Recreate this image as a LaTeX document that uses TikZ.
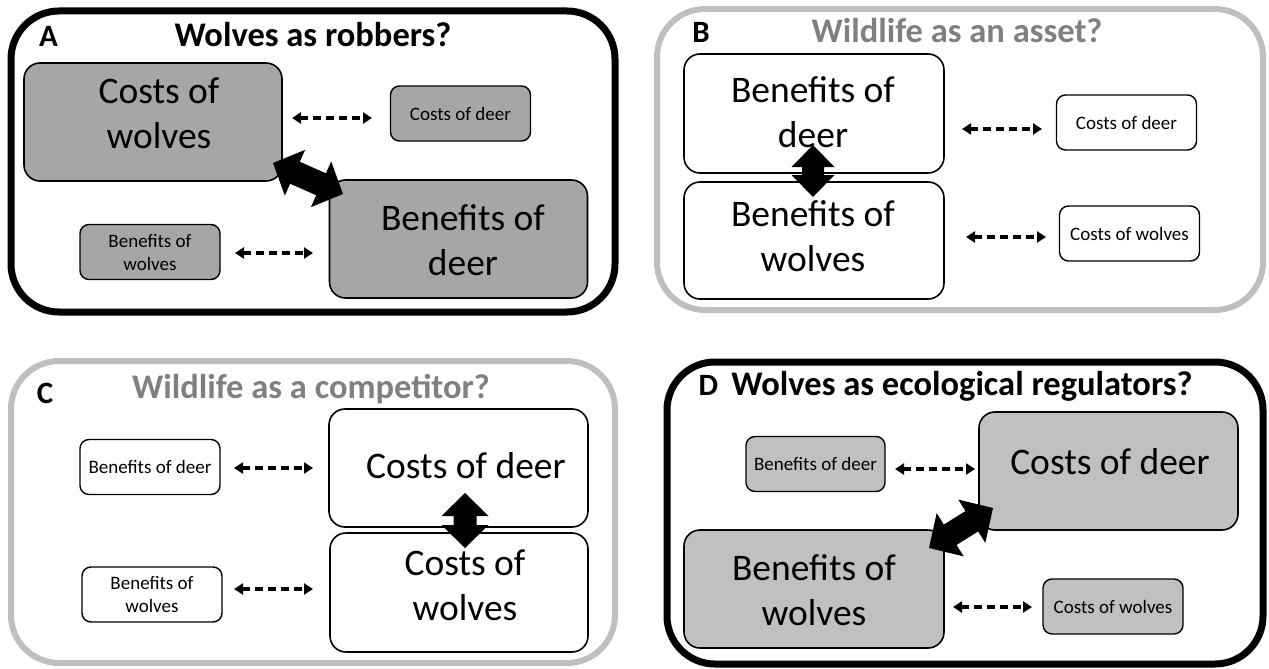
\documentclass[tikz,border=0pt]{standalone}
\usepackage{fontspec}
\setmainfont{Carlito}
\usetikzlibrary{arrows.meta,calc}
\definecolor{fillA}{RGB}{166,166,166}
\definecolor{fillD}{RGB}{192,192,192}
\definecolor{framegray}{RGB}{191,191,191}
\definecolor{titlegray}{RGB}{128,128,128}
% #1 start, #2 end, #3 head length, #4 head half width, #5 shaft half width
\newcommand\fatdbl[5]{%
  \fill[black] (#1)
    -- ($(#1)!#3!(#2)!#4!90:(#2)$)
    -- ($(#1)!#3!(#2)!#5!90:(#2)$)
    -- ($(#2)!#3!(#1)!#5!-90:(#1)$)
    -- ($(#2)!#3!(#1)!#4!-90:(#1)$)
    -- (#2)
    -- ($(#2)!#3!(#1)!#4!90:(#1)$)
    -- ($(#2)!#3!(#1)!#5!90:(#1)$)
    -- ($(#1)!#3!(#2)!#5!-90:(#2)$)
    -- ($(#1)!#3!(#2)!#4!-90:(#2)$)
    -- cycle;}
\begin{document}
\begin{tikzpicture}[x=1pt,y=-1pt,
  panelbox/.style={line width=7pt, rounded corners=48pt},
  bigbox/.style={draw, line width=1.6pt, rounded corners=16pt, minimum width=258pt, minimum height=118pt, inner sep=0pt},
  smallbox/.style={draw, line width=1.4pt, rounded corners=9pt, minimum width=140pt, minimum height=55pt, inner sep=0pt, align=center, font=\fontsize{19}{23}\selectfont},
  bigtext/.style={align=center, inner sep=0pt, font=\fontsize{37.5}{45}\selectfont},
  paneltitle/.style={anchor=base, inner sep=0pt, font=\bfseries\fontsize{34.5}{40}\selectfont},
  panelletter/.style={anchor=base, inner sep=0pt, font=\bfseries\fontsize{31}{36}\selectfont},
  dasharrow/.style={line width=3.1pt, dash pattern=on 8pt off 5pt, {Triangle[length=9pt,width=11pt]}-{Triangle[length=9pt,width=11pt]}},
]
\useasboundingbox (0,0) rectangle (1269,669);

% ---------------- Panel A ----------------
\draw[panelbox, draw=black] (11,11) rectangle (615,312);
\node[panelletter] (lA) at (48.5,47) {A};
\node[paneltitle] (tA) at (313,47) {Wolves as robbers?};
\node[bigbox, fill=fillA] (Acw) at (153,122) {};
\node[bigtext] (Acwt) at (159,113) {Costs of\\wolves};
\node[smallbox, fill=fillA] (Acd) at (460.5,113.5) {Costs of deer};
\node[bigbox, fill=fillA] (Abd) at (458.5,239) {};
\node[bigtext] (Abdt) at (463,240) {Benefits of\\deer};
\node[smallbox, fill=fillA] (Abw) at (150,252) {Benefits of\\wolves};
\coordinate (A1s) at (292,118); \coordinate (A1e) at (372,118);
\draw[dasharrow] (A1s) -- (A1e);
\coordinate (A2s) at (235,253); \coordinate (A2e) at (313,253);
\draw[dasharrow] (A2s) -- (A2e);
\coordinate (AFs) at (273,163); \coordinate (AFe) at (343,194);
\fatdbl{AFs}{AFe}{24pt}{25pt}{12pt}

% ---------------- Panel B ----------------
\draw[panelbox, draw=framegray, line width=6pt] (657,9) rectangle (1263,310);
\node[panelletter] (lB) at (701,43) {B};
\node[paneltitle, text=titlegray] (tB) at (957,43) {Wildlife as an asset?};
\node[bigbox, fill=white, minimum width=260pt, minimum height=119pt] (Bbd) at (814,113.5) {};
\node[bigtext] (Bbdt) at (813,112) {Benefits of\\deer};
\node[bigbox, fill=white, minimum width=260pt, minimum height=117pt] (Bbw) at (814,240.5) {};
\node[bigtext] (Bbwt) at (813,236) {Benefits of\\wolves};
\node[smallbox, fill=white] (Bcd) at (1126.5,122.5) {Costs of deer};
\node[smallbox, fill=white] (Bcw) at (1129.5,233.5) {Costs of wolves};
\coordinate (B1s) at (962,129); \coordinate (B1e) at (1042,129);
\draw[dasharrow] (B1s) -- (B1e);
\coordinate (B2s) at (966,237); \coordinate (B2e) at (1046,237);
\draw[dasharrow] (B2s) -- (B2e);
\coordinate (BFs) at (813,145); \coordinate (BFe) at (813,197);
\fatdbl{BFs}{BFe}{22pt}{21.5pt}{11pt}

% ---------------- Panel C ----------------
\draw[panelbox, draw=framegray, line width=6pt] (11,361) rectangle (615,663);
\node[panelletter] (lC) at (45,403) {C};
\node[paneltitle, text=titlegray] (tC) at (311,398) {Wildlife as a competitor?};
\node[smallbox, fill=white] (Cbd) at (150,467) {Benefits of deer};
\node[bigbox, fill=white, minimum width=259pt] (Ccd) at (458.5,468) {};
\node[bigtext] (Ccdt) at (466,466) {Costs of deer};
\node[bigbox, fill=white, minimum height=119pt] (Ccw) at (459,592.5) {};
\node[bigtext] (Ccwt) at (465,585) {Costs of\\wolves};
\node[smallbox, fill=white] (Cbw) at (152,594.5) {Benefits of\\wolves};
\coordinate (C1s) at (234,468); \coordinate (C1e) at (313,468);
\draw[dasharrow] (C1s) -- (C1e);
\coordinate (C2s) at (234,589); \coordinate (C2e) at (313,589);
\draw[dasharrow] (C2s) -- (C2e);
\coordinate (CFs) at (465,493); \coordinate (CFe) at (465,548);
\fatdbl{CFs}{CFe}{23pt}{23.5pt}{11.5pt}

% ---------------- Panel D ----------------
\draw[panelbox, draw=black] (667,362) rectangle (1263,664);
\node[panelletter] (lD) at (708.5,395) {D};
\node[paneltitle] (tD) at (962,395) {Wolves as ecological regulators?};
\node[smallbox, fill=fillD, minimum width=139pt] (Dbd) at (815.5,464) {Benefits of deer};
\node[bigbox, fill=fillD, minimum width=259pt] (Dcd) at (1108.5,471) {};
\node[bigtext] (Dcdt) at (1110,462) {Costs of deer};
\node[bigbox, fill=fillD, minimum width=260pt] (Dbw) at (814,589) {};
\node[bigtext] (Dbwt) at (814,590) {Benefits of\\wolves};
\node[smallbox, fill=fillD] (Dcw) at (1113,606.5) {Costs of wolves};
\coordinate (D1s) at (895,469); \coordinate (D1e) at (975,469);
\draw[dasharrow] (D1s) -- (D1e);
\coordinate (D2s) at (953,607); \coordinate (D2e) at (1032,607);
\draw[dasharrow] (D2s) -- (D2e);
\coordinate (DFs) at (929,548); \coordinate (DFe) at (993,508);
\fatdbl{DFs}{DFe}{25pt}{25.5pt}{12pt}
\end{tikzpicture}
\end{document}
